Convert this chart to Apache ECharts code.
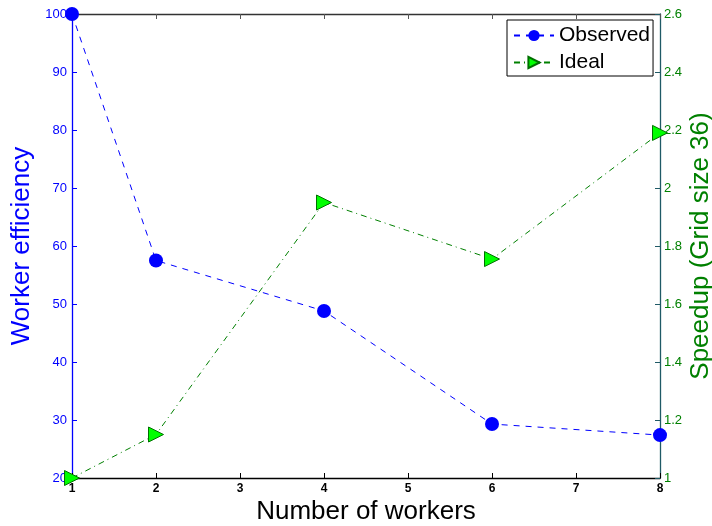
<!DOCTYPE html>
<html>
<head>
<meta charset="utf-8">
<script src="https://cdn.jsdelivr.net/npm/echarts@6/dist/echarts.min.js"></script>
<style>
  html, body { margin: 0; padding: 0; background: #fff; }
  #chart { width: 712px; height: 526px; }
</style>
</head>
<body>
<div id="chart"></div>
<script>
// Worker counts and the two measured series
const workers = [1, 2, 4, 6, 8];
const efficiency = [100, 57.5, 48.8, 29.3, 27.4];   // percent, left axis
const speedup = [1.0, 1.15, 1.95, 1.755, 2.19];      // right axis

const xTicks = [1, 2, 3, 4, 5, 6, 7, 8];
const leftTicks = [20, 30, 40, 50, 60, 70, 80, 90, 100];
const rightTicks = [1, 1.2, 1.4, 1.6, 1.8, 2, 2.2, 2.4, 2.6];

const FONT = "'Liberation Sans', Arial, Helvetica, sans-serif";
const BLUE = '#0000ff';
const GREEN = '#008000';

const chart = echarts.init(document.getElementById('chart'), null, { renderer: 'canvas' });

chart.setOption({
  animation: false,
  backgroundColor: '#ffffff',
  grid: { left: 72, right: 52, top: 14, bottom: 48, containLabel: false, outerBoundsMode: 'none' },
  legend: {
    left: 507, top: 20,
    orient: 'vertical',
    backgroundColor: '#ffffff',
    borderColor: '#000000',
    borderWidth: 1,
    borderRadius: 0,
    padding: [5, 3, 3, 6],
    itemWidth: 40, itemHeight: 14, itemGap: 6,
    textStyle: { fontFamily: FONT, fontSize: 21, color: '#000' },
    data: ['Observed', 'Ideal']
  },
  xAxis: [
    {
      type: 'value', min: xTicks[0], max: xTicks[xTicks.length - 1], interval: 1,
      name: 'Number of workers', nameLocation: 'middle', nameGap: 21, nameMoveOverlap: false,
      nameTextStyle: { fontFamily: FONT, fontSize: 26, color: '#000' },
      axisLine: { show: true, lineStyle: { color: '#000', width: 1.3 } },
      axisTick: { show: true, inside: true, length: 5, lineStyle: { color: '#000' } },
      axisLabel: { fontFamily: FONT, fontSize: 12, fontWeight: 'bold', color: '#000', margin: 5 },
      splitLine: { show: false }
    },
    {
      type: 'value', position: 'top', min: xTicks[0], max: xTicks[xTicks.length - 1], interval: 1,
      axisLine: { show: true, lineStyle: { color: '#333', width: 1.3 } },
      axisTick: { show: true, inside: true, length: 5, lineStyle: { color: '#555' } },
      axisLabel: { show: false },
      splitLine: { show: false }
    }
  ],
  yAxis: [
    {
      type: 'value', min: leftTicks[0], max: leftTicks[leftTicks.length - 1], interval: 10,
      name: 'Worker efficiency', nameLocation: 'middle', nameGap: 37, nameMoveOverlap: false,
      nameTextStyle: { fontFamily: FONT, fontSize: 26, color: BLUE },
      axisLine: { show: true, lineStyle: { color: BLUE, width: 1.3 } },
      axisTick: { show: true, inside: true, length: 5, lineStyle: { color: BLUE } },
      axisLabel: { fontFamily: FONT, fontSize: 13, color: BLUE, margin: 5 },
      splitLine: { show: false }
    },
    {
      type: 'value', position: 'right', min: rightTicks[0], max: rightTicks[rightTicks.length - 1], interval: 0.2,
      name: 'Speedup (Grid size 36)', nameLocation: 'middle', nameGap: 28, nameMoveOverlap: false,
      nameTextStyle: { fontFamily: FONT, fontSize: 26, color: GREEN },
      axisLine: { show: true, lineStyle: { color: '#1f5a66', width: 1.3 } },
      axisTick: { show: true, inside: true, length: 5, lineStyle: { color: '#1f5a66' } },
      axisLabel: {
        fontFamily: FONT, fontSize: 13, color: GREEN, margin: 4,
        formatter: v => String(Math.round(v * 10) / 10)
      },
      splitLine: { show: false }
    }
  ],
  series: [
    {
      name: 'Observed', type: 'line', xAxisIndex: 0, yAxisIndex: 0,
      data: workers.map((w, i) => [w, efficiency[i]]),
      symbol: 'circle', symbolSize: 14, clip: false,
      lineStyle: { color: BLUE, width: 1, type: [6, 6] },
      itemStyle: { color: BLUE, borderWidth: 0 },
      z: 3
    },
    {
      name: 'Ideal', type: 'line', xAxisIndex: 0, yAxisIndex: 1,
      data: workers.map((w, i) => [w, speedup[i]]),
      symbol: 'triangle', symbolRotate: -90, symbolSize: 15, clip: false,
      lineStyle: { color: GREEN, width: 1, type: [6, 4, 1, 4] },
      itemStyle: { color: '#00ff00', borderColor: '#007000', borderWidth: 1 },
      z: 4
    }
  ]
});
</script>
</body>
</html>
